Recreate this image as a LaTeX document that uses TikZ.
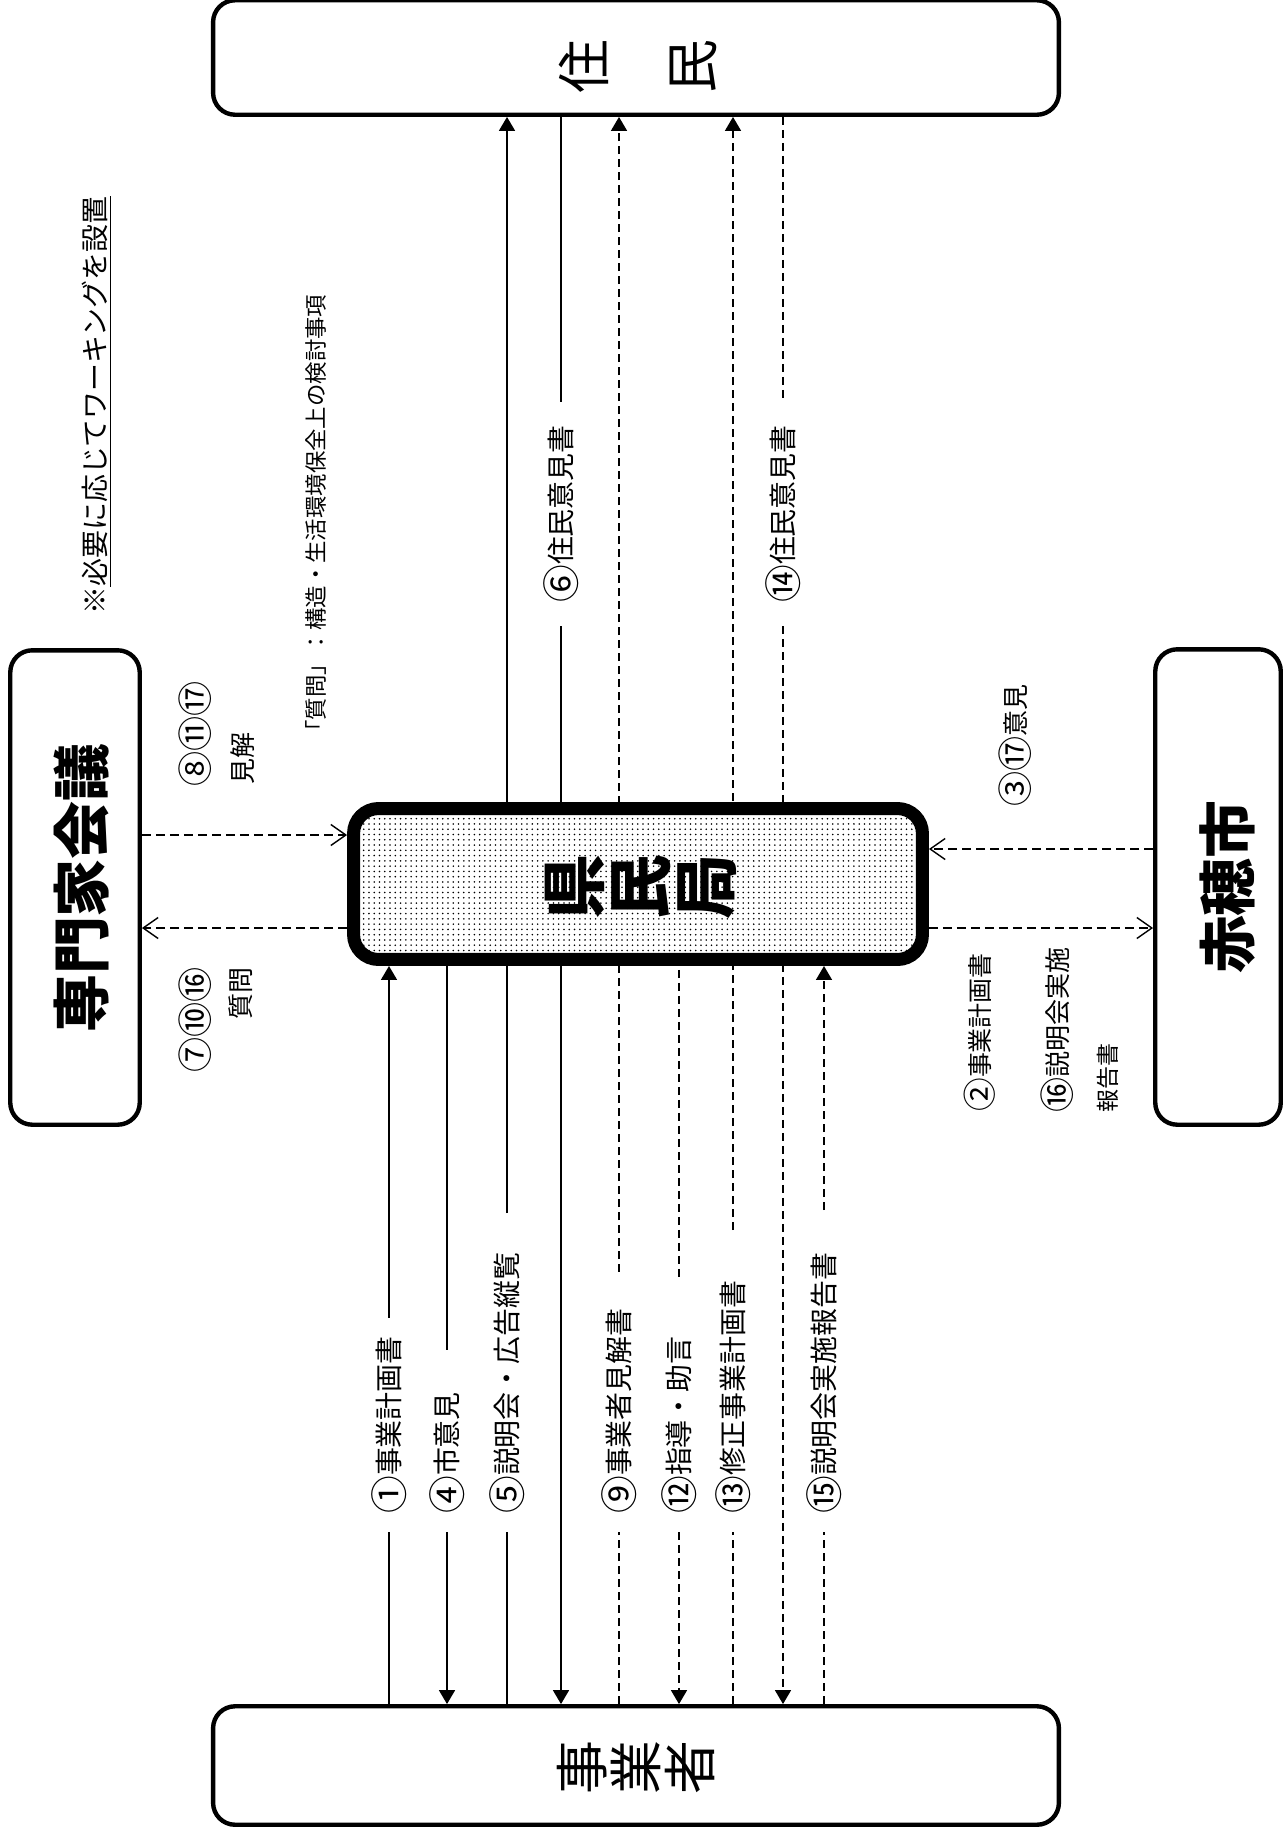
\documentclass[tikz,border=0pt]{standalone}
\usepackage{fontspec}
\setmainfont{Noto Sans CJK JP}
\usetikzlibrary{arrows.meta,patterns}
\newcommand\cnum[1]{\raisebox{-0.12em}{\scalebox{1.35}{#1}}}
\begin{document}
\begin{tikzpicture}[x=0.02cm,y=-0.02cm,
  box/.style={draw, line width=2.5pt, rounded corners=0.44cm, inner sep=0pt},
  conn/.style={line width=1pt},
  dconn/.style={line width=0.9pt, dash pattern=on 0.16cm off 0.1cm},
  tip/.style={-{Triangle[width=0.32cm,length=0.28cm]}},
  hconn/.style={line width=0.9pt, dash pattern=on 0.18cm off 0.1cm,
     -{Straight Barb[length=0.3cm,width=0.42cm,line width=0.8pt]}},
  lab/.style={rotate=90, anchor=west, inner ysep=0pt, inner xsep=0.36cm,
     font=\fontsize{15.9pt}{18pt}\selectfont},
  ulab/.style={lab, inner xsep=0.46cm},
  side/.style={rotate=90, inner sep=0pt, font=\fontsize{14.8pt}{17pt}\selectfont},
  big/.style={rotate=90, inner sep=0pt, font=\fontsize{33pt}{36pt}\selectfont\bfseries},
  stack/.style={rotate=90, inner sep=0pt, align=center,
     font=\fontsize{30.7pt}{30.7pt}\selectfont}
]
\useasboundingbox (0,0) rectangle (1286,1836);
\clip (0,0) rectangle (1286,1836);

% outer boxes
\node[box, minimum width=16.92cm, minimum height=2.29cm] (jumin) at (636,57.5) {};
\node[box, minimum width=16.92cm, minimum height=2.37cm] (jigyo) at (636,1765.5) {};
\node[box, minimum width=2.59cm, minimum height=9.49cm] (senmon) at (75,887.5) {};
\node[box, minimum width=2.51cm, minimum height=9.51cm] (ako) at (1218,887) {};

\node[stack] (jumintext) at (638,67) {住\\　\\民};
\node[stack] (jigyotext) at (636,1768) {事\\業\\者};
\node[big] (senmontext) at (82,888) {専門家会議};
\node[big] (akotext) at (1228,887) {赤穂市};

% notes
\node[rotate=90, anchor=west, inner sep=0pt, font=\fontsize{15.9pt}{18pt}\selectfont]
  (note1) at (97,615) {※\underline{必要に応じてワーキングを設置}};
\node[rotate=90, anchor=west, inner sep=0pt, font=\fontsize{12.75pt}{15pt}\selectfont]
  (note2) at (316,743) {「質問」：構造・生活環境保全上の検討事項};

% side labels
\node[side, anchor=west] (s8) at (195,787) {\cnum{⑧}\cnum{⑪}\cnum{⑰}};
\node[side, anchor=west] (s8b) at (243,785) {見解};
\node[side, anchor=east] (s7) at (195,967) {\cnum{⑦}\cnum{⑩}\cnum{⑯}};
\node[side, anchor=east] (s7b) at (241,967) {質問};
\node[side, anchor=west] (s3) at (1015,807) {\cnum{③}\cnum{⑰}意見};
\node[side, anchor=west, font=\fontsize{14.2pt}{17pt}\selectfont] (s2) at (980,1112) {\cnum{②}事業計画書};
\node[side, anchor=west] (s16) at (1057,1113) {\cnum{⑯}説明会実施};
\node[side, anchor=west, font=\fontsize{13.1pt}{15pt}\selectfont] (s16b) at (1108,1113) {報告書};

% column coordinates
\coordinate (c1) at (389,0);
\coordinate (c4) at (447,0);
\coordinate (c5) at (507,0);
\coordinate (c6) at (561,0);
\coordinate (c9) at (619,0);
\coordinate (c12) at (679,0);
\coordinate (c13) at (733,0);
\coordinate (c14) at (783,0);
\coordinate (c15) at (824,0);
\coordinate (r8) at (0,835);
\coordinate (r3) at (0,849);
\coordinate (r7) at (0,928);

% labels on vertical connectors
\node[lab] (lab1) at (389,1532) {\cnum{①}事業計画書};
\node[lab] (lab4) at (447,1532) {\cnum{④}市意見};
\node[lab] (lab5) at (507,1532) {\cnum{⑤}説明会・広告縦覧};
\node[lab] (lab9) at (619,1532) {\cnum{⑨}事業者見解書};
\node[lab] (lab12) at (679,1532) {\cnum{⑫}指導・助言};
\node[lab] (lab13) at (733,1532) {\cnum{⑬}修正事業計画書};
\node[lab] (lab15) at (824,1532) {\cnum{⑮}説明会実施報告書};
\node[ulab] (lab6) at (561,626) {\cnum{⑥}住民意見書};
\node[ulab] (lab14) at (783,626) {\cnum{⑭}住民意見書};

% connectors passing behind the centre box
\draw[conn] (jigyo.north -| c5) -- (lab5.west);
\draw[conn,tip,shorten <=0.42cm] (lab5.east) -- (jumin.south -| c5);
\draw[conn] (jumin.south -| c6) -- (lab6.east);
\draw[conn,tip] (lab6.west) -- (jigyo.north -| c6);
\draw[dconn] (jigyo.north -| c9) -- (lab9.west);
\draw[dconn,tip,shorten <=0.36cm] (lab9.east) -- (jumin.south -| c9);
\draw[dconn] (jigyo.north -| c13) -- (lab13.west);
\draw[dconn,tip,shorten <=0.64cm] (lab13.east) -- (jumin.south -| c13);
\draw[dconn] (jumin.south -| c14) -- (lab14.east);
\draw[dconn,tip] (lab14.west) -- (jigyo.north -| c14);

% centre box
\node[draw, line width=7.4pt, rounded corners=0.5cm, inner sep=0pt,
  minimum width=11.38cm, minimum height=3.02cm,
  preaction={fill=white}, pattern=dots] (kenmin) at (638,884) {};
\node[rotate=90, inner sep=0pt, align=center,
  font=\fontsize{37pt}{37.5pt}\selectfont\bfseries] (kenmintext) at (641,887) {県\\民\\局};

% connectors to the centre box
\draw[conn] (jigyo.north -| c1) -- (lab1.west);
\draw[conn,tip] (lab1.east) -- (kenmin.south -| c1);
\draw[conn,shorten >=0.48cm] (kenmin.south -| c4) -- (lab4.east);
\draw[conn,tip] (lab4.west) -- (jigyo.north -| c4);
\draw[dconn,shorten <=0.08cm,shorten >=0.82cm] (kenmin.south -| c12) -- (lab12.east);
\draw[dconn,tip] (lab12.west) -- (jigyo.north -| c12);
\draw[dconn] (jigyo.north -| c15) -- (lab15.west);
\draw[dconn,tip,shorten <=0.48cm] (lab15.east) -- (kenmin.south -| c15);

% horizontal connectors
\draw[hconn] (senmon.east |- r8) -- (kenmin.west |- r8);
\draw[hconn] (kenmin.west |- r7) -- (senmon.east |- r7);
\draw[hconn] (ako.west |- r3) -- (kenmin.east |- r3);
\draw[hconn] (kenmin.east |- r7) -- (ako.west |- r7);
\end{tikzpicture}
\end{document}
